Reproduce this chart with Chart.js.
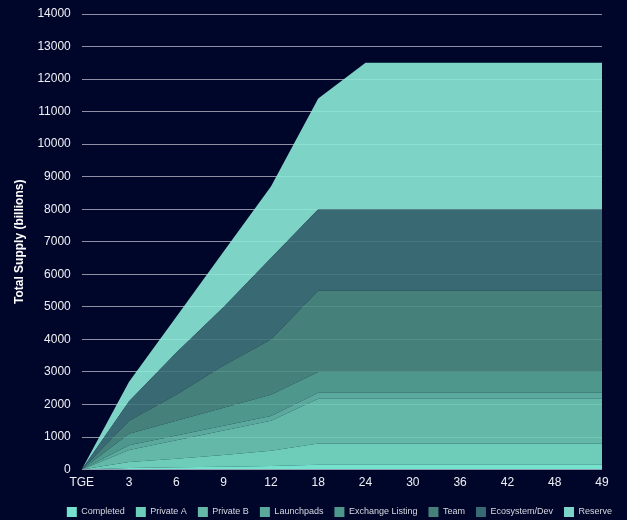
<!DOCTYPE html>
<html>
<head>
<meta charset="utf-8">
<script src="https://cdn.jsdelivr.net/npm/chart.js@4.4.0/dist/chart.umd.min.js"></script>
<style>
    html, body { margin: 0; padding: 0; background: #00052a; overflow: hidden; }
    canvas { display: block; }
</style>
</head>
<body>
<canvas id="supply-chart" width="627" height="520"></canvas>
<script>
// Months after TGE
const months = ['TGE', '3', '6', '9', '12', '18', '24', '30', '36', '42', '48', '49'];

// Unlocked supply per allocation (billions), stacked bottom to top
const completed     = [0,  50,   70,   90,  110,  150,  150,  150,  150,  150,  150,  150];
const privateA      = [0, 180,  260,  360,  470,  650,  650,  650,  650,  650,  650,  650];
const privateB      = [0, 370,  570,  750,  920, 1380, 1380, 1380, 1380, 1380, 1380, 1380];
const launchpads    = [0, 150,  150,  150,  150,  180,  180,  180,  180,  180,  180,  180];
const exchange      = [0, 350,  450,  550,  650,  640,  640,  640,  640,  640,  640,  640];
const team          = [0, 400,  800, 1300, 1700, 2500, 2500, 2500, 2500, 2500, 2500, 2500];
const ecosystem     = [0, 600, 1300, 1800, 2500, 2500, 2500, 2500, 2500, 2500, 2500, 2500];
const reserve       = [0, 600, 1100, 1700, 2200, 3400, 4500, 4500, 4500, 4500, 4500, 4500];

const seriesNames = ['Completed', 'Private A', 'Private B', 'Launchpads', 'Exchange Listing', 'Team', 'Ecosystem/Dev', 'Reserve'];
const seriesData = [completed, privateA, privateB, launchpads, exchange, team, ecosystem, reserve];
const seriesColors = ['#81fbdee6', '#79e3c9e6', '#6fccb6e6', '#64bba9e6', '#57a797e6', '#4d8e84e6', '#3f757be6', '#8cead8e6'];

Chart.defaults.font.family = '"Liberation Sans", Arial, Helvetica, sans-serif';

const ctx = document.getElementById('supply-chart').getContext('2d');
new Chart(ctx, {
    type: 'line',
    data: {
        labels: months,
        datasets: seriesNames.map((name, i) => ({
            label: name,
            data: seriesData[i],
            backgroundColor: seriesColors[i],
            borderColor: seriesColors[i],
            borderWidth: 0,
            pointRadius: 0,
            tension: 0,
            fill: i === 0 ? 'origin' : '-1'
        }))
    },
    options: {
        responsive: false,
        animation: false,
        layout: {
            padding: { left: 0, right: 4, top: 0, bottom: -7 }
        },
        plugins: {
            legend: {
                position: 'bottom',
                align: 'end',
                labels: {
                    color: '#d8d9e0',
                    boxWidth: 10,
                    boxHeight: 10,
                    padding: 11,
                    font: { size: 9 }
                }
            },
            tooltip: { enabled: false }
        },
        scales: {
            x: {
                grid: { display: false, drawTicks: false },
                border: { display: false },
                ticks: {
                    color: '#f0f0f4',
                    font: { size: 12 },
                    padding: 6,
                    autoSkip: false,
                    maxRotation: 0
                },
                afterFit: (scale) => { scale.paddingRight = 25; }
            },
            y: {
                stacked: true,
                min: 0,
                max: 14000,
                border: { display: false },
                grid: {
                    color: 'rgba(190, 190, 205, 0.75)',
                    drawTicks: false
                },
                ticks: {
                    stepSize: 1000,
                    color: '#f0f0f4',
                    font: { size: 12 },
                    padding: 11,
                    callback: (value) => String(value)
                },
                title: {
                    display: true,
                    text: 'Total Supply (billions)',
                    color: '#ffffff',
                    font: { size: 12, weight: 'bold' },
                    padding: { top: 12, bottom: 0 }
                },
                afterFit: (scale) => { scale.paddingTop = 14; }
            }
        }
    }
});
</script>
</body>
</html>
